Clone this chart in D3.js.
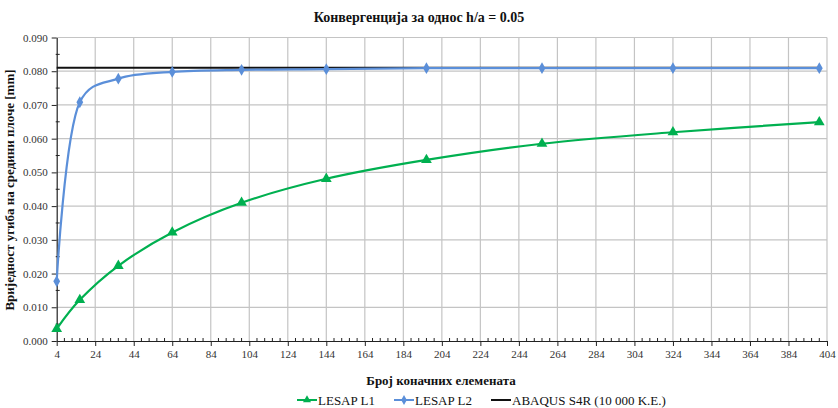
<!DOCTYPE html>
<html>
<head>
<meta charset="utf-8">
<script src="https://cdn.jsdelivr.net/npm/d3@7"></script>
<style>
  body { margin: 0; background: #fff; }
  text { font-family: "Liberation Serif", "Times New Roman", serif; }
</style>
</head>
<body>
<div class="container"></div>
<script>
// number of finite elements
const elements = [4, 16, 36, 64, 100, 144, 196, 256, 324, 400];
// deflection at plate centre [mm]
const lesapL1 = [0.0036, 0.0122, 0.0223, 0.0322, 0.0410, 0.0481, 0.0537, 0.0585, 0.0619, 0.0649];
const lesapL2 = [0.0177, 0.0708, 0.0778, 0.0798, 0.0804, 0.0806, 0.0809, 0.0809, 0.0809, 0.0809];
const abaqusX = [4, 400];
const abaqusY = [0.0810, 0.0810];
const xTicks = d3.range(4, 405, 20);
const yTicks = d3.range(0, 0.0901, 0.01);

const W = 838, H = 408;
const margin = { top: 37.5, right: 11, bottom: 67, left: 56.7 };

const svg = d3.select(".container").append("svg")
  .attr("width", W).attr("height", H);

const x = d3.scaleLinear().domain([4, 404]).range([margin.left, W - margin.right]);
const y = d3.scaleLinear().domain([0, 0.09]).range([H - margin.bottom, margin.top]);

// grid
const grid = svg.append("g").attr("stroke", "#c4c4c4").attr("stroke-width", 1.2);
xTicks.slice(1).forEach(function (t) {
  grid.append("line").attr("x1", x(t)).attr("x2", x(t)).attr("y1", y(0)).attr("y2", y(0.09));
});
yTicks.slice(1).forEach(function (t) {
  grid.append("line").attr("x1", x(4)).attr("x2", x(404)).attr("y1", y(t)).attr("y2", y(t));
});

// axes
const xAxis = d3.axisBottom(x).tickValues(xTicks).tickSize(5).tickSizeOuter(0).tickPadding(4);
const gx = svg.append("g").attr("transform", "translate(0," + y(0) + ")").call(xAxis);
const yAxis = d3.axisLeft(y).tickValues(yTicks).tickSize(5).tickSizeOuter(0).tickPadding(4)
  .tickFormat(d3.format(".3f"));
const gy = svg.append("g").attr("transform", "translate(" + x(4) + ",0)").call(yAxis);

[gx, gy].forEach(function (g) {
  g.attr("font-family", null);
  g.select(".domain").attr("stroke", "#222").attr("stroke-width", 1.2);
  g.selectAll(".tick line").attr("stroke", "#222");
  g.selectAll(".tick text").attr("fill", "#333").style("font-size", "11px");
});

// minor ticks
const minor = svg.append("g").attr("stroke", "#222").attr("stroke-width", 1);
d3.range(4, 404, 4).filter(function (v) { return (v - 4) % 20 !== 0; }).forEach(function (v) {
  minor.append("line").attr("x1", x(v)).attr("x2", x(v)).attr("y1", y(0) - 3).attr("y2", y(0) + 1);
});
d3.range(0.005, 0.09, 0.01).forEach(function (v) {
  minor.append("line").attr("x1", x(4) - 1).attr("x2", x(4) + 3).attr("y1", y(v)).attr("y2", y(v));
});

// series
const green = "#00b050", blue = "#5b8fd9";
const line = d3.line().x(function (d) { return x(d[0]); }).y(function (d) { return y(d[1]); })
  .curve(d3.curveCatmullRom.alpha(0.3));

svg.append("path").datum(d3.zip(abaqusX, abaqusY))
  .attr("d", d3.line().x(function (d) { return x(d[0]); }).y(function (d) { return y(d[1]); }))
  .attr("fill", "none").attr("stroke", "#111").attr("stroke-width", 2);

svg.append("path").datum(d3.zip(elements, lesapL2))
  .attr("d", line).attr("fill", "none").attr("stroke", blue).attr("stroke-width", 2.2);
svg.append("path").datum(d3.zip(elements, lesapL1))
  .attr("d", line).attr("fill", "none").attr("stroke", green).attr("stroke-width", 2.2);

const diamond = d3.symbol().type(d3.symbolDiamond).size(40);
const triangle = d3.symbol().type(d3.symbolTriangle).size(50);

svg.append("g").selectAll("path").data(d3.zip(elements, lesapL2)).enter().append("path")
  .attr("d", diamond).attr("fill", blue)
  .attr("transform", function (d) { return "translate(" + x(d[0]) + "," + y(d[1]) + ")"; });
svg.append("g").selectAll("path").data(d3.zip(elements, lesapL1)).enter().append("path")
  .attr("d", triangle).attr("fill", green)
  .attr("transform", function (d) { return "translate(" + x(d[0]) + "," + y(d[1]) + ")"; });

// titles
svg.append("text").attr("x", 419).attr("y", 22).attr("text-anchor", "middle")
  .style("font-size", "14px").style("font-weight", "bold").attr("fill", "#111")
  .text("Конвергенција за однос h/a = 0.05");
svg.append("text").attr("x", 441).attr("y", 385).attr("text-anchor", "middle")
  .style("font-size", "13px").style("font-weight", "bold").attr("fill", "#111")
  .text("Број коначних елемената");
svg.append("text").attr("transform", "translate(14,190) rotate(-90)").attr("text-anchor", "middle")
  .style("font-size", "13px").style("font-weight", "bold").attr("fill", "#111")
  .text("Вриједност угиба на средини плоче [mm]");

// legend
const legend = [
  { name: "LESAP L1", color: green, sym: triangle, x0: 297 },
  { name: "LESAP L2", color: blue, sym: diamond, x0: 394 },
  { name: "ABAQUS S4R (10 000 K.E.)", color: "#111", sym: null, x0: 491 }
];
const lg = svg.append("g").selectAll("g").data(legend).enter().append("g")
  .attr("transform", function (d) { return "translate(" + d.x0 + ",400)"; });
lg.append("line").attr("x1", 0).attr("x2", 20).attr("y1", 0).attr("y2", 0)
  .attr("stroke", function (d) { return d.color; }).attr("stroke-width", 2);
lg.filter(function (d) { return d.sym; }).append("path")
  .attr("d", function (d) { return d.sym.size(28)(); })
  .attr("transform", "translate(10,0)").attr("fill", function (d) { return d.color; });
lg.append("text").attr("x", 21).attr("y", 4.5).style("font-size", "13px").attr("fill", "#111")
  .text(function (d) { return d.name; });
</script>
</body>
</html>
